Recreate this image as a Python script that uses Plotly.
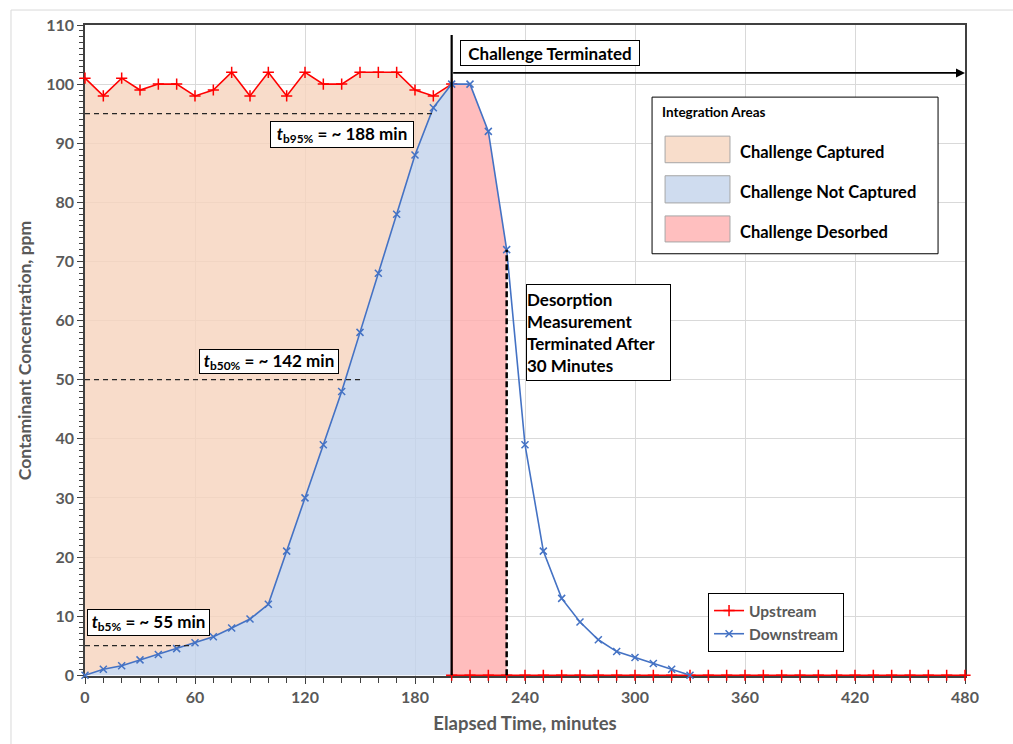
import plotly.graph_objects as go

# ---------------- data ----------------
up_t = [0, 10, 20, 30, 40, 50, 60, 70, 80, 90, 100, 110, 120, 130, 140, 150, 160, 170, 180, 190, 200,
        200, 210, 220, 230, 240, 250, 260, 270, 280, 290, 300, 310, 320, 330, 340, 350, 360, 370, 380,
        390, 400, 410, 420, 430, 440, 450, 460, 470, 480]
up_c = [101, 98, 101, 99, 100, 100, 98, 99, 102, 98, 102, 98, 102, 100, 100, 102, 102, 102, 99, 98, 100,
        0, 0, 0, 0, 0, 0, 0, 0, 0, 0, 0, 0, 0, 0, 0, 0, 0, 0, 0,
        0, 0, 0, 0, 0, 0, 0, 0, 0, 0]

dn_t = [0, 10, 20, 30, 40, 50, 60, 70, 80, 90, 100, 110, 120, 130, 140, 150, 160, 170, 180, 190,
        200, 210, 220, 230, 240, 250, 260, 270, 280, 290, 300, 310, 320, 330]
dn_c = [0, 1, 1.6, 2.6, 3.5, 4.5, 5.5, 6.5, 8, 9.5, 12, 21, 30, 39, 48, 58, 68, 78, 88, 96,
        100, 100, 92, 72, 39, 21, 13, 9, 6, 4, 3, 2, 1, 0]

x_ticks = [0, 60, 120, 180, 240, 300, 360, 420, 480]
y_ticks = [0, 10, 20, 30, 40, 50, 60, 70, 80, 90, 100, 110]

challenge_end = 200
desorb_end = 230

area_labels = ["Challenge Captured", "Challenge Not Captured", "Challenge Desorbed"]
area_colors = ["#F8DDCB", "#CFDCEF", "#FFBFBF"]
area_fills = ["rgba(246,212,190,0.82)", "rgba(195,211,235,0.82)", "rgba(255,175,175,0.82)"]

FONT = "Lato"
GRAY = "#595959"

# ---------------- figure ----------------
cap_idx_up = up_t.index(challenge_end) + 1
cap_idx_dn = dn_t.index(challenge_end) + 1
des_lo = dn_t.index(challenge_end)
des_hi = dn_t.index(desorb_end) + 1

fig = go.Figure()

# Not captured (under downstream up to 200)
fig.add_trace(go.Scatter(x=dn_t[:cap_idx_dn], y=dn_c[:cap_idx_dn], mode="lines",
                         line=dict(width=0, color=area_fills[1]), fill="tozeroy",
                         fillcolor=area_fills[1], showlegend=False, hoverinfo="skip"))
# Captured (between downstream and upstream)
fig.add_trace(go.Scatter(x=up_t[:cap_idx_up], y=up_c[:cap_idx_up], mode="lines",
                         line=dict(width=0, color=area_fills[0]), fill="tonexty",
                         fillcolor=area_fills[0], showlegend=False, hoverinfo="skip"))
# Desorbed
fig.add_trace(go.Scatter(x=dn_t[des_lo:des_hi], y=dn_c[des_lo:des_hi], mode="lines",
                         line=dict(width=0, color=area_fills[2]), fill="tozeroy",
                         fillcolor=area_fills[2], showlegend=False, hoverinfo="skip"))

fig.add_trace(go.Scatter(x=up_t, y=up_c, mode="lines+markers", name="Upstream",
                         line=dict(color="#FF0000", width=1.6), cliponaxis=False,
                         marker=dict(symbol="cross-thin", size=8,
                                     line=dict(color="#FF0000", width=1.5))))
fig.add_trace(go.Scatter(x=dn_t, y=dn_c, mode="lines+markers", name="Downstream",
                         line=dict(color="#4472C4", width=1.6), cliponaxis=False,
                         marker=dict(symbol="x-thin", size=7,
                                     line=dict(color="#4472C4", width=1.5))))

shapes = []
# outer chart frame
shapes.append(dict(type="rect", xref="paper", yref="paper", x0=-0.0841, x1=1.07, y0=-0.12, y1=1.0230,
                   line=dict(color="#D9D9D9", width=1), fillcolor="rgba(0,0,0,0)", layer="below"))
# challenge terminated line
shapes.append(dict(type="line", xref="x", yref="y", x0=challenge_end, x1=challenge_end, y0=0, y1=108.3,
                   line=dict(color="black", width=2.2)))
# desorption end dashed line
shapes.append(dict(type="line", xref="x", yref="y", x0=desorb_end, x1=desorb_end, y0=0, y1=72,
                   line=dict(color="black", width=2.5, dash="6px,3px")))
# breakthrough dashed lines
for lvl, xe in [(95, 189.5), (50, 150), (5, 59)]:
    shapes.append(dict(type="line", xref="x", yref="y", x0=0, x1=xe, y0=lvl, y1=lvl,
                       line=dict(color="#262626", width=1.2, dash="5px,4px")))
# integration areas legend box
shapes.append(dict(type="rect", xref="x", yref="y", x0=309.3, x1=465.3, y0=71.3, y1=97.8,
                   line=dict(color="black", width=1), fillcolor="white"))
sw_y = [(86.7, 91.2), (79.9, 84.5), (73.3, 77.7)]
for (y0, y1), col in zip(sw_y, area_colors):
    shapes.append(dict(type="rect", xref="x", yref="y", x0=316.4, x1=351.8, y0=y0, y1=y1,
                       line=dict(color="#A6A6A6", width=1), fillcolor=col))

annotations = []
# arrow
annotations.append(dict(x=480, y=101.9, ax=challenge_end, ay=101.9, xref="x", yref="y",
                        axref="x", ayref="y", text="", showarrow=True, arrowhead=2,
                        arrowsize=1, arrowwidth=1.8, arrowcolor="black"))


def box(text, x, y, w, h, align="center", size=17):
    return dict(x=x, y=y, xref="x", yref="y", text=text, showarrow=False,
                xanchor="center", yanchor="middle", width=w, height=h, align=align,
                bgcolor="white", bordercolor="black", borderwidth=1, borderpad=0,
                font=dict(family=FONT, size=size, color="black", weight="bold"))


annotations.append(box("<i>t</i><sub>b95%</sub> = ~ 188 min", 140.2, 91.5, 142, 25))
annotations.append(box("<i>t</i><sub>b50%</sub> = ~ 142 min", 100.4, 53.0, 138, 23))
annotations.append(box("<i>t</i><sub>b5%</sub> = ~ 55 min", 34.4, 9.0, 121, 25))
annotations.append(box("Challenge Terminated", 253.6, 105.3, 178, 24))
annotations.append(box("Desorption<br>Measurement<br>Terminated After<br>30 Minutes",
                       280.1, 58.0, 143, 95, align="left"))

annotations.append(dict(x=313.6, y=95.3, xref="x", yref="y", text="Integration Areas",
                        showarrow=False, xanchor="left", yanchor="middle",
                        font=dict(family=FONT, size=13.5, color="black", weight="bold")))
for lab, yy in zip(area_labels, [88.6, 81.8, 74.9]):
    annotations.append(dict(x=356.2, y=yy, xref="x", yref="y", text=lab, showarrow=False,
                            xanchor="left", yanchor="middle",
                            font=dict(family=FONT, size=16.5, color="black", weight="bold")))

fig.update_layout(
    width=1013, height=744,
    margin=dict(l=85, r=48, t=25, b=68),
    paper_bgcolor="white", plot_bgcolor="white",
    font=dict(family=FONT, color=GRAY),
    shapes=shapes, annotations=annotations,
    legend=dict(x=0.708, y=0.1275, xanchor="left", yanchor="top", bgcolor="white",
                bordercolor="black", borderwidth=1, itemwidth=30, tracegroupgap=0,
                traceorder="normal",
                font=dict(family=FONT, size=15.5, color=GRAY, weight="bold")),
    showlegend=True,
)

fig.update_xaxes(range=[0, 480], tickvals=x_ticks, ticktext=[str(v) for v in x_ticks],
                 showgrid=True, gridcolor="#D9D9D9", gridwidth=1, zeroline=False,
                 showline=True, linecolor="#404040", linewidth=1.5, mirror=True,
                 layer="below traces",
                 ticks="outside", ticklen=6, tickcolor="#404040",
                 minor=dict(dtick=10, ticks="outside", ticklen=5, tickcolor="#404040", showgrid=False),
                 tickfont=dict(family=FONT, size=16, color=GRAY, weight="bold"),
                 title=dict(text="Elapsed Time, minutes", standoff=12,
                            font=dict(family=FONT, size=18.5, color=GRAY, weight="bold")))
fig.update_yaxes(range=[-0.13, 110], tickvals=y_ticks, ticktext=[str(v) for v in y_ticks],
                 showgrid=True, gridcolor="#D9D9D9", gridwidth=1, zeroline=False,
                 showline=True, linecolor="#404040", linewidth=1.5, mirror=True,
                 layer="below traces",
                 ticks="outside", ticklen=6, tickcolor="#404040",
                 minor=dict(dtick=1, ticks="outside", ticklen=4, tickcolor="#404040", showgrid=False),
                 tickfont=dict(family=FONT, size=16, color=GRAY, weight="bold"),
                 title=dict(text="Contaminant Concentration, ppm", standoff=10,
                            font=dict(family=FONT, size=17.5, color=GRAY, weight="bold")))

fig.write_html("out.html")
